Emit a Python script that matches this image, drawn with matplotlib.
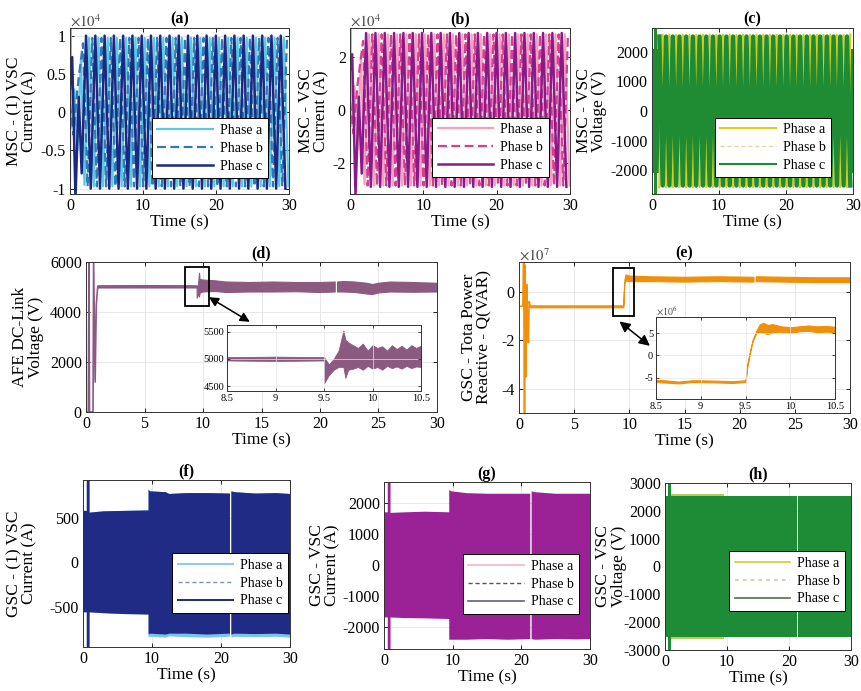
import numpy as np
import matplotlib
matplotlib.use("Agg")
import matplotlib.pyplot as plt
from matplotlib.lines import Line2D
from matplotlib.patches import Rectangle
from matplotlib.ticker import FormatStrFormatter

plt.rcParams.update({
    "font.family": "Liberation Serif",
    "mathtext.fontset": "stix",
    "axes.unicode_minus": False,
    "font.size": 11,
})
nan = np.nan

# ---------------- (a)/(b) MSC currents : extremum times (s) -----------------
c_peak_t = [2.2, 3.47, 4.74, 6.01, 7.28, 8.55, 9.82, 11.09, 12.36, 13.63, 14.9, 16.17,
            17.44, 18.71, 19.98, 21.25, 22.52, 23.79, 25.06, 26.33, 27.6, 28.87]
c_trough_t = [2.84, 4.11, 5.38, 6.65, 7.92, 9.19, 10.46, 11.73, 13.0, 14.27, 15.54, 16.81,
              18.08, 19.35, 20.62, 21.89, 23.16, 24.43, 25.7, 26.97, 28.24, 29.51]
a_peak_t = [2.62, 3.89, 5.16, 6.43, 7.70, 8.97, 10.24, 11.51, 12.78, 14.05, 15.32, 16.59,
            17.86, 19.13, 20.40, 21.67, 22.94, 24.21, 25.48, 26.75, 28.02, 29.29]
a_trough_t = [3.26, 4.53, 5.80, 7.07, 8.34, 9.61, 10.88, 12.15, 13.42, 14.69, 15.96, 17.23,
              18.50, 19.77, 21.04, 22.31, 23.58, 24.85, 26.12, 27.39, 28.66, 29.93]
b_peak_t = [3.05, 4.32, 5.59, 6.86, 8.13, 9.40, 10.67, 11.94, 13.21, 14.48, 15.75, 17.02,
            18.29, 19.56, 20.83, 22.10, 23.37, 24.64, 25.91, 27.18, 28.45, 29.72]
b_trough_t = [2.41, 3.68, 4.95, 6.22, 7.49, 8.76, 10.03, 11.30, 12.57, 13.84, 15.11, 16.38,
              17.65, 18.92, 20.19, 21.46, 22.73, 24.00, 25.27, 26.54, 27.81, 29.08]

# start-up transients (x1e4 A)
pa_c_tr_t = [0.0, 0.3, 0.75, 1.2, 1.6]
pa_c_tr_v = [0.3, 0.72, -1.12, 0.2, -0.8]
pa_a_tr_t = [0.0, 0.08, 0.18, 0.6, 1.0, 1.5, 1.98]
pa_a_tr_v = [-0.9, 1.15, -0.2, 0.3, -0.5, 0.7, -0.95]
pa_b_tr_t = [0.0, 0.5, 1.0, 1.78]
pa_b_tr_v = [0.1, -0.3, 0.3, 0.9]
pa_amp = [0.97, 0.97, 1.0]       # phase a, b, c peak (x1e4 A)

pb_c_tr_v = [1.5, 2.1, -3.2, 0.5, -2.4]
pb_a_tr_v = [-2.6, 3.3, -0.6, 0.9, -1.5, 2.0, -2.8]
pb_b_tr_v = [0.3, -0.9, 0.9, 2.6]
pb_amp = [2.85, 2.85, 2.9]       # x1e4 A

# ---------------- (c) MSC voltage -------------------------------------------
c_a_top_t = [1.6, 2.6, 3.6, 4.6, 5.6, 6.6, 7.6, 8.6, 9.6, 10.6, 11.6, 12.6, 13.6, 14.6, 15.6,
             16.6, 17.6, 18.6, 19.6, 20.6, 21.6, 22.6, 23.6, 24.6, 25.6, 26.6, 27.6, 28.6, 29.6]
c_a_bot_t = [1.1, 2.1, 3.1, 4.1, 5.1, 6.1, 7.1, 8.1, 9.1, 10.1, 11.1, 12.1, 13.1, 14.1, 15.1,
             16.1, 17.1, 18.1, 19.1, 20.1, 21.1, 22.1, 23.1, 24.1, 25.1, 26.1, 27.1, 28.1, 29.1]
c_amp = [2580, 2520]             # phase a, phase c peak (V)
c_env_t = [0.0, 0.3, 0.3, 0.8, 0.8, 21.45, nan, 21.55, 30.0]
c_env_hi = [2100, 2100, 2810, 2810, 2100, 2100, nan, 2100, 2100]

# ---------------- (d) AFE DC-link voltage -----------------------------------
d_tr_t = [0.0, 0.2, 0.25, 0.3, 0.6, 0.65, 0.78, 0.88, 1.0]
d_tr_v = [0, 0, 6100, 0, 0, 6100, 1200, 4300, 5000]
d_t = [1.0, 5.0, 9.5, 9.5, 9.6, 9.7, 9.75, 10.0, 11, 12, 14, 16, 18, 20, 21.3, nan,
       21.5, 22, 23, 24, 24.5, 25, 26, 28, 30]
d_hi = [5050, 5060, 5050, 5050, 5000, 5550, 5300, 5280, 5250, 5200, 5180, 5200, 5180, 5180, 5200, nan,
        5200, 5220, 5200, 5150, 5100, 5150, 5200, 5180, 5150]
d_lo = [4960, 4960, 4960, 4550, 4700, 4600, 4750, 4800, 4820, 4780, 4800, 4800, 4810, 4780, 4800, nan,
        4800, 4800, 4780, 4720, 4700, 4760, 4800, 4790, 4800]
di_t = [8.5, 9.0, 9.5, 9.5, 9.55, 9.6, 9.65, 9.7, 9.72, 9.75, 9.8, 9.85, 9.9, 9.95, 10.0,
        10.05, 10.1, 10.15, 10.2, 10.25, 10.3, 10.35, 10.4, 10.45, 10.5]
di_hi = [5030, 5040, 5030, 5030, 4900, 5000, 5150, 5520, 5350, 5300, 5250, 5200, 5280, 5150, 5250,
         5200, 5230, 5150, 5250, 5180, 5240, 5170, 5250, 5200, 5240]
di_lo = [4970, 4960, 4970, 4550, 4700, 4800, 4850, 4850, 4650, 4800, 4820, 4850, 4800, 4870, 4820,
         4850, 4800, 4870, 4830, 4860, 4820, 4870, 4830, 4860, 4850]

# ---------------- (e) GSC reactive power (x1e7 VAR) -------------------------
e_tr_t = [0.0, 0.35, 0.42, 0.5, 0.56, 0.62, 0.7, 0.78, 0.85, 0.92, 1.05]
e_tr_v = [-0.6, -0.6, 1.3, -5.1, 1.1, -3.5, 0.3, -1.5, -2.1, -0.4, -0.62]
e_t = [1.05, 5, 9.5, 9.5, 9.55, 9.6, 9.7, 10, 12, 15, 18, 21.3, nan, 21.5, 24, 27, 30]
e_hi = [-0.58, -0.58, -0.58, -0.58, 0.1, 0.5, 0.7, 0.65, 0.62, 0.6, 0.62, 0.6, nan, 0.62, 0.6, 0.58, 0.58]
e_lo = [-0.66, -0.66, -0.66, -0.62, -0.05, 0.35, 0.45, 0.42, 0.42, 0.4, 0.42, 0.4, nan, 0.42, 0.4, 0.38, 0.38]
ei_t = [8.5, 8.6, 8.75, 8.9, 9.0, 9.2, 9.35, 9.5, 9.5, 9.52, 9.55, 9.58, 9.62, 9.66, 9.7,
        9.75, 9.8, 9.9, 10.0, 10.1, 10.2, 10.3, 10.4, 10.5]
ei_hi = [-5.5, -5.6, -5.9, -5.6, -5.6, -5.7, -5.8, -5.6, -5.6, -2.0, 1.0, 3.5, 5.5, 7.0, 7.3,
         6.8, 7.0, 6.5, 6.3, 6.5, 6.7, 6.5, 6.6, 6.4]
ei_lo = [-6.0, -6.1, -6.3, -6.0, -6.0, -6.1, -6.2, -6.0, -5.9, -2.5, 0.6, 3.2, 5.0, 5.2, 5.0,
         4.8, 5.2, 5.3, 5.0, 5.4, 5.5, 5.2, 5.3, 5.2]

# ---------------- (f) GSC-(1) current envelope (A) --------------------------
f_t = [0, 0.55, 0.55, 0.95, 0.95, 3, 6, 9.5, 9.5, 9.7, 12, 12.5, 15, 18, 21.3, nan,
       21.5, 22, 25, 28, 30]
f_hi = [580, 580, 930, 930, 560, 575, 580, 585, 820, 800, 790, 770, 780, 780, 775, nan,
        800, 790, 775, 780, 770]
f_lo = [-560, -560, -950, -950, -560, -570, -580, -585, -810, -800, -810, -800, -800, -810, -800, nan,
        -810, -800, -805, -800, -810]
f_a_lo = [-560, -560, -950, -950, -560, -570, -580, -585, -845, -835, -845, -830, -840, -845, -835, nan,
          -845, -835, -840, -835, -845]

# ---------------- (g) GSC current envelope (A) ------------------------------
g_t = [0, 0.55, 0.55, 0.95, 0.95, 3, 6, 9.5, 9.5, 9.8, 12, 15, 18, 21.3, nan, 21.5, 22, 25, 28, 30]
g_hi = [1700, 1700, 2680, 2680, 1680, 1700, 1720, 1700, 2420, 2380, 2320, 2300, 2300, 2300, nan,
        2380, 2350, 2300, 2300, 2300]
g_lo = [-1700, -1700, -2720, -2720, -1700, -1720, -1730, -1750, -2420, -2420, -2420, -2400, -2420,
        -2400, nan, -2400, -2420, -2400, -2410, -2400]

# ---------------- (h) GSC voltage envelope (V) ------------------------------
h_t = [0, 0.55, 0.55, 0.95, 0.95, 9.5, 21.3, nan, 21.5, 30]
h_hi = [2550, 2550, 3000, 3000, 2550, 2550, 2550, nan, 2550, 2550]
h_a_t = [1.0, 9.5]
h_a_hi = [2590, 2590]


def zig(t_tr, v_tr, peaks, troughs, hi, lo):
    t = list(t_tr) + list(peaks) + list(troughs)
    v = list(v_tr) + [hi] * len(peaks) + [lo] * len(troughs)
    order = np.argsort(t)
    return np.array(t)[order], np.array(v)[order]


W, H = 861, 691
fig = plt.figure(figsize=(W / 100, H / 100), dpi=100)


def axes_px(l, t, r, b):
    return fig.add_axes([l / W, 1 - b / H, (r - l) / W, (b - t) / H])


def style(ax, xt, yt, xlim, ylim, label, title, lx, tsize=11.5):
    ax.set_xlim(xlim)
    ax.set_ylim(ylim)
    ax.set_xticks(xt)
    ax.set_yticks(yt)
    ax.xaxis.set_major_formatter(FormatStrFormatter("%g"))
    ax.yaxis.set_major_formatter(FormatStrFormatter("%g"))
    ax.tick_params(direction="in", top=True, right=True, length=3, width=0.6,
                   labelsize=tsize, pad=3)
    ax.grid(True, color="#e4e4e4", lw=0.6)
    ax.set_axisbelow(True)
    for s in ax.spines.values():
        s.set_linewidth(0.7)
        s.set_color("#333333")
    if label:
        ax.set_ylabel(label, fontsize=12.5, linespacing=0.95, va="center", ha="center")
        ax.yaxis.set_label_coords(lx, 0.5)
    ax.set_xlabel("Time (s)", fontsize=12.5, labelpad=0)
    ax.set_title(title, fontweight="bold", fontsize=11.5, pad=3)


def legend(ax, handles, anchor):
    lg = ax.legend(handles=handles, labels=["Phase a", "Phase b", "Phase c"],
                   loc="lower left", bbox_to_anchor=anchor, borderaxespad=0,
                   fontsize=10, handlelength=4.0, handletextpad=0.5, borderpad=0.4,
                   labelspacing=0.35, fancybox=False, framealpha=1, edgecolor="black")
    lg.get_frame().set_linewidth(0.7)


# ---- (a)
axa = axes_px(70, 28, 289, 194)
cols_a = ["#5bc8e6", "#2e7ab8", "#1b2a80"]
ta, va = zig(pa_a_tr_t, pa_a_tr_v, a_peak_t, a_trough_t, pa_amp[0], -pa_amp[0])
tb, vb = zig(pa_b_tr_t, pa_b_tr_v, b_peak_t, b_trough_t, pa_amp[1], -pa_amp[1])
tc, vc = zig(pa_c_tr_t, pa_c_tr_v, c_peak_t, c_trough_t, pa_amp[2], -pa_amp[2])
la, = axa.plot(ta, va, color=cols_a[0], lw=1.6)
lb, = axa.plot(tb, vb, color=cols_a[1], lw=1.6, dashes=(4, 2))
lc, = axa.plot(tc, vc, color=cols_a[2], lw=1.8)
style(axa, [0, 10, 20, 30], [-1, -0.5, 0, 0.5, 1], (0, 30), (-1.07, 1.1),
      "MSC - (1) VSC\nCurrent (A)", "(a)", -0.22)
axa.text(0.0, 1.01, r"$\times10^4$", transform=axa.transAxes, fontsize=10.5, color="#444")
legend(axa, [la, lb, lc], (0.374, 0.096))

# ---- (b)
axb = axes_px(350, 28, 570, 194)
cols_b = ["#f4a0c0", "#d4408e", "#8a1a8a"]
ta, va = zig(pa_a_tr_t, pb_a_tr_v, a_peak_t, a_trough_t, pb_amp[0], -pb_amp[0])
tb, vb = zig(pa_b_tr_t, pb_b_tr_v, b_peak_t, b_trough_t, pb_amp[1], -pb_amp[1])
tc, vc = zig(pa_c_tr_t, pb_c_tr_v, c_peak_t, c_trough_t, pb_amp[2], -pb_amp[2])
la, = axb.plot(ta, va, color=cols_b[0], lw=1.6)
lb, = axb.plot(tb, vb, color=cols_b[1], lw=1.6, dashes=(4, 2))
lc, = axb.plot(tc, vc, color=cols_b[2], lw=1.8)
style(axb, [0, 10, 20, 30], [-2, 0, 2], (0, 30), (-3.17, 3.09),
      "MSC - VSC\nCurrent (A)", "(b)", -0.164)
axb.text(0.0, 1.01, r"$\times10^4$", transform=axb.transAxes, fontsize=10.5, color="#444")
legend(axb, [la, lb, lc], (0.373, 0.10))

# ---- (c)
axc = axes_px(652, 28, 853, 194)
col_cy, col_cg = "#d8cf1e", "#1f8c34"
ta, va = zig([], [], c_a_top_t, c_a_bot_t, c_amp[0], -c_amp[0])
tc, vc = zig([], [], c_a_bot_t, c_a_top_t, c_amp[1], -c_amp[1])
axc.plot(ta, va, color=col_cy, lw=1.6)
axc.plot(tc, vc, color=col_cg, lw=3.2)
axc.fill_between(c_env_t, c_env_hi, [-v for v in c_env_hi], color=col_cg, lw=0)
style(axc, [0, 10, 20, 30], [-2000, -1000, 0, 1000, 2000], (0, 30), (-2810, 2810),
      "MSC - VSC\nVoltage (V)", "(c)", -0.30)
legend(axc, [Line2D([], [], color=col_cy, lw=1.5),
             Line2D([], [], color="#e2d9a8", lw=1.0, dashes=(3, 2)),
             Line2D([], [], color=col_cg, lw=1.5)], (0.313, 0.10))

# ---- (d)
axd = axes_px(86, 262, 437, 412)
col_d = "#8c5a80"
axd.plot(d_tr_t, d_tr_v, color=col_d, lw=1.2)
axd.fill_between(d_t, d_hi, d_lo, color=col_d, lw=0.8, edgecolor=col_d)
style(axd, [0, 5, 10, 15, 20, 25, 30], [0, 2000, 4000, 6000], (0, 30), (0, 6000),
      "AFE DC-Link\nVoltage (V)", "(d)", -0.165)
axd.add_patch(Rectangle((8.5, 4250), 2.0, 1550, fill=False, ec="black", lw=1.3, zorder=5))
axd.annotate("", xy=(10.3, 4650), xytext=(14.2, 3550),
             arrowprops=dict(arrowstyle="<|-|>", color="black", lw=1.1, mutation_scale=14),
             zorder=6)
axdi = axes_px(227, 325, 421, 391)
axdi.fill_between(di_t, di_hi, di_lo, color=col_d, lw=0.6, edgecolor=col_d)
axdi.set_xlim(8.5, 10.5)
axdi.set_ylim(4410, 5620)
axdi.set_xticks([8.5, 9, 9.5, 10, 10.5])
axdi.set_yticks([4500, 5000, 5500])
axdi.xaxis.set_major_formatter(FormatStrFormatter("%g"))
axdi.tick_params(direction="in", top=True, right=True, length=2, width=0.5, labelsize=7.5, pad=2)
axdi.grid(True, color="#e4e4e4", lw=0.5)
for s in axdi.spines.values():
    s.set_linewidth(0.7)
    s.set_color("#333333")

# ---- (e)
axe = axes_px(519, 262, 850, 413)
col_e = "#f0900a"
axe.plot(e_tr_t, e_tr_v, color=col_e, lw=1.2)
axe.fill_between(e_t, e_hi, e_lo, color=col_e, lw=0.8, edgecolor=col_e)
style(axe, [0, 5, 10, 15, 20, 25, 30], [-4, -2, 0], (0, 30), (-5.0, 1.23),
      "GSC - Tota Power\nReactive - Q(VAR)", "(e)", -0.127)
axe.text(0.0, 1.01, r"$\times10^7$", transform=axe.transAxes, fontsize=10.5, color="#444")
axe.add_patch(Rectangle((8.5, -1.0), 1.9, 2.0, fill=False, ec="black", lw=1.3, zorder=5))
axe.annotate("", xy=(8.9, -1.15), xytext=(12.06, -2.3),
             arrowprops=dict(arrowstyle="<|-|>", color="black", lw=1.1, mutation_scale=16),
             zorder=6)
axei = axes_px(656, 317, 835, 399)
axei.fill_between(ei_t, ei_hi, ei_lo, color=col_e, lw=0.8, edgecolor=col_e)
axei.set_xlim(8.5, 10.5)
axei.set_ylim(-9.8, 8.6)
axei.set_xticks([8.5, 9, 9.5, 10, 10.5])
axei.set_yticks([-5, 0, 5])
axei.xaxis.set_major_formatter(FormatStrFormatter("%g"))
axei.tick_params(direction="in", top=True, right=True, length=2, width=0.5, labelsize=7.5, pad=2)
axei.grid(True, color="#e4e4e4", lw=0.5)
axei.text(0.0, 1.01, r"$\times10^6$", transform=axei.transAxes, fontsize=7, color="#444")
for s in axei.spines.values():
    s.set_linewidth(0.7)
    s.set_color("#333333")

# ---- (f)
axf = axes_px(83, 480, 290, 647)
col_fa, col_fc = "#7cc4ea", "#1f2b84"
axf.fill_between(f_t, f_hi, f_a_lo, color=col_fa, lw=0)
axf.fill_between(f_t, f_hi, f_lo, color=col_fc, lw=0)
style(axf, [0, 10, 20, 30], [-500, 0, 500], (0, 30), (-950, 927),
      "GSC - (1) VSC\nCurrent (A)", "(f)", -0.295)
legend(axf, [Line2D([], [], color="#8ccbea", lw=1.4),
             Line2D([], [], color="#7f8fb8", lw=1.0, dashes=(3, 2)),
             Line2D([], [], color="#1c2a78", lw=1.4)], (0.43, 0.204))

# ---- (g)
axg = axes_px(384, 482, 590, 649)
col_g = "#9a2196"
axg.fill_between(g_t, g_hi, g_lo, color=col_g, lw=0)
style(axg, [0, 10, 20, 30], [-2000, -1000, 0, 1000, 2000], (0, 30), (-2720, 2680),
      "GSC - VSC\nCurrent (A)", "(g)", -0.286)
legend(axg, [Line2D([], [], color="#f2b3cf", lw=1.2),
             Line2D([], [], color="#555555", lw=1.0, dashes=(3, 2)),
             Line2D([], [], color="#6e5c6e", lw=1.2)], (0.383, 0.21))

# ---- (h)
axh = axes_px(665, 483, 851, 650)
col_hy, col_hg = "#b8cc5a", "#1e8c36"
axh.fill_between(h_a_t, h_a_hi, [-v for v in h_a_hi], color=col_hy, lw=0)
axh.fill_between(h_t, h_hi, [-v for v in h_hi], color=col_hg, lw=0)
style(axh, [0, 10, 20, 30], [-3000, -2000, -1000, 0, 1000, 2000, 3000], (0, 30), (-3000, 3000),
      "GSC - VSC\nVoltage (V)", "(h)", -0.29)
legend(axh, [Line2D([], [], color="#d4cf2a", lw=1.2),
             Line2D([], [], color="#cfd6b0", lw=1.4, dashes=(2, 2)),
             Line2D([], [], color="#4f6f4f", lw=1.2)], (0.344, 0.234))

fig.savefig("out.png", dpi=100)
